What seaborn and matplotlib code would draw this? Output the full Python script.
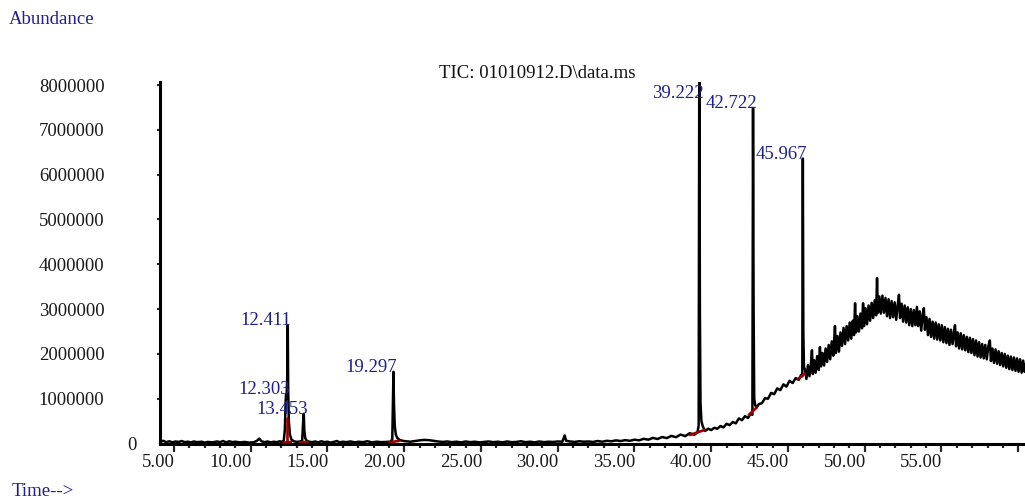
import numpy as np
import pandas as pd
import matplotlib
matplotlib.use("Agg")
import matplotlib.pyplot as plt
from matplotlib.transforms import offset_copy, ScaledTranslation
import seaborn as sns

# ---------------- data ----------------
# early baseline 4.1 - 12.2 min (abundance)
t_early = [4.10, 4.3, 4.5, 4.7, 4.9, 5.1, 5.3, 5.5, 5.7, 5.9, 6.1, 6.3, 6.5, 6.8, 7.0, 7.2, 7.5,
           7.8, 8.0, 8.2, 8.4, 8.6, 8.8, 9.0, 9.3, 9.6, 9.9, 10.2, 10.4, 10.55, 10.7, 10.9, 11.1,
           11.3, 11.5, 11.7, 11.9, 12.0, 12.15]
y_early = [40000, 60000, 30000, 50000, 25000, 45000, 35000, 55000, 30000, 40000, 25000, 45000,
           30000, 40000, 20000, 35000, 25000, 45000, 30000, 55000, 25000, 50000, 30000, 40000,
           25000, 35000, 20000, 30000, 60000, 110000, 50000, 30000, 45000, 25000, 40000, 30000,
           50000, 35000, 60000]
# peaks 12.303 / 12.411 / 13.453
t_p1 = [12.22, 12.28, 12.303, 12.33, 12.38, 12.411, 12.44, 12.48, 12.55, 12.65, 12.8, 13.0, 13.2,
        13.35, 13.40, 13.453, 13.49, 13.55, 13.65, 13.8, 14.0]
y_p1 = [300000, 1000000, 1100000, 1000000, 1500000, 2640000, 1200000, 500000, 200000, 90000,
        50000, 35000, 45000, 60000, 400000, 660000, 300000, 120000, 60000, 40000, 30000]
# baseline 14 - 39 and peak 19.297
t_mid = [14.2, 14.4, 14.6, 14.8, 15.0, 15.2, 15.4, 15.6, 15.8, 16.0, 16.2, 16.5, 16.8, 17.0, 17.3,
         17.6, 17.9, 18.2, 18.5, 18.8, 19.1, 19.22, 19.26, 19.297, 19.33, 19.38, 19.45, 19.55,
         19.7, 19.9, 20.1, 20.4, 20.7, 21.0, 21.3, 21.6, 21.9, 22.2, 22.5, 22.8, 23.1, 23.4,
         23.7, 24.0, 24.3, 24.6, 24.9, 25.2, 25.5, 25.8, 26.1, 26.4, 26.7, 27.0, 27.3, 27.6,
         27.9, 28.2, 28.5, 28.8, 29.1, 29.4, 29.7, 30.0, 30.3, 30.45, 30.55, 30.8, 31.1, 31.4,
         31.7, 32.0, 32.3, 32.6, 32.9, 33.2, 33.5, 33.8, 34.1, 34.4, 34.7, 35.0, 35.3, 35.6,
         35.9, 36.2, 36.5, 36.8, 37.1, 37.4, 37.7, 38.0, 38.3, 38.6, 38.9, 39.1]
y_mid = [45000, 25000, 50000, 30000, 40000, 20000, 35000, 55000, 25000, 40000, 30000, 45000,
         25000, 40000, 30000, 50000, 25000, 40000, 30000, 35000, 40000, 90000, 900000, 1600000,
         900000, 400000, 200000, 120000, 80000, 60000, 50000, 40000, 55000, 70000, 80000, 75000,
         60000, 45000, 35000, 45000, 30000, 40000, 25000, 45000, 30000, 40000, 25000, 35000,
         45000, 30000, 40000, 25000, 45000, 30000, 35000, 50000, 30000, 40000, 25000, 45000,
         30000, 40000, 35000, 45000, 40000, 180000, 60000, 45000, 35000, 50000, 40000, 45000,
         35000, 55000, 40000, 60000, 50000, 70000, 55000, 75000, 60000, 85000, 70000, 105000,
         85000, 125000, 100000, 145000, 120000, 170000, 140000, 200000, 165000, 230000,
         195000, 250000]
# peaks 39.222 / 42.722 / 45.967 on rising baseline
t_late = [39.18, 39.222, 39.26, 39.30, 39.36, 39.45, 39.6, 39.8, 40.0, 40.2, 40.4, 40.6, 40.8,
          41.0, 41.2, 41.4, 41.6, 41.8, 42.0, 42.2, 42.4, 42.55, 42.68, 42.722, 42.76, 42.80,
          42.86, 42.95, 43.1, 43.3, 43.5, 43.7, 43.9, 44.1, 44.3, 44.5, 44.7, 44.9, 45.1, 45.3,
          45.5, 45.7, 45.85, 45.93, 45.967, 46.0, 46.04]
y_late = [400000, 9000000, 3000000, 900000, 500000, 380000, 280000, 330000, 300000, 350000,
          330000, 390000, 360000, 440000, 410000, 480000, 450000, 560000, 520000, 610000,
          570000, 660000, 640000, 7480000, 3000000, 1000000, 860000, 800000, 880000, 900000,
          1010000, 1000000, 1130000, 1100000, 1230000, 1190000, 1320000, 1270000, 1400000,
          1350000, 1460000, 1420000, 1530000, 1500000, 6360000, 2500000, 1700000]
# column bleed hump 46 - 60.5 min (in millions)
t_hump = [46.1, 46.2, 46.3, 46.4, 46.5, 46.56, 46.62, 46.7, 46.8, 46.9, 47.0, 47.08, 47.15, 47.25,
          47.35, 47.45, 47.55, 47.65, 47.75, 47.85, 47.95, 48.06, 48.12, 48.22, 48.32, 48.42,
          48.52, 48.62, 48.72, 48.82, 48.92, 49.02, 49.12, 49.22, 49.30, 49.37, 49.43, 49.52,
          49.62, 49.72, 49.82, 49.89, 49.95, 50.05, 50.15, 50.25, 50.35, 50.45, 50.55, 50.65,
          50.74, 50.80, 50.86, 50.95, 51.05, 51.15, 51.25, 51.35, 51.45, 51.55, 51.65, 51.75,
          51.85, 51.95, 52.05, 52.15, 52.23, 52.30, 52.40, 52.50, 52.60, 52.70, 52.80, 52.90,
          53.00, 53.10, 53.20, 53.30, 53.40, 53.48, 53.58, 53.68, 53.78, 53.85, 53.92, 54.02,
          54.12, 54.22, 54.32, 54.42, 54.52, 54.62, 54.72, 54.82, 54.92, 55.02, 55.12, 55.22,
          55.32, 55.42, 55.52, 55.62, 55.72, 55.82, 55.88, 55.95, 56.05, 56.15, 56.25, 56.35,
          56.45, 56.55, 56.65, 56.75, 56.85, 56.95, 57.05, 57.15, 57.25, 57.35, 57.45, 57.55,
          57.65, 57.75, 57.85, 57.95, 58.05, 58.15, 58.22, 58.32, 58.42, 58.52, 58.62, 58.72,
          58.82, 58.92, 59.02, 59.12, 59.22, 59.32, 59.42, 59.52, 59.62, 59.72, 59.82, 59.92,
          60.02, 60.12, 60.22, 60.32, 60.42, 60.50]
y_hump_m = [1.66, 1.44, 1.75, 1.50, 1.80, 2.08, 1.55, 1.86, 1.58, 1.95, 1.64, 2.15, 1.72, 2.02,
            1.74, 2.12, 1.82, 2.20, 1.88, 2.28, 1.96, 2.62, 2.02, 2.40, 2.05, 2.48, 2.18, 2.58,
            2.22, 2.62, 2.30, 2.70, 2.34, 2.74, 2.42, 3.13, 2.48, 2.84, 2.50, 2.90, 2.57, 3.13,
            2.62, 3.02, 2.66, 3.08, 2.74, 3.14, 2.80, 3.20, 2.86, 3.69, 2.92, 3.28, 2.90, 3.30,
            2.92, 3.25, 2.84, 3.22, 2.80, 3.18, 2.82, 3.15, 2.76, 3.10, 3.32, 2.80, 3.12, 2.72,
            3.08, 2.70, 3.04, 2.64, 3.00, 2.62, 2.98, 2.64, 3.05, 2.62, 2.95, 2.52, 2.90, 3.02,
            2.54, 2.82, 2.42, 2.78, 2.38, 2.72, 2.34, 2.70, 2.32, 2.66, 2.30, 2.64, 2.26, 2.60,
            2.24, 2.56, 2.20, 2.54, 2.22, 2.50, 2.64, 2.17, 2.48, 2.12, 2.46, 2.10, 2.42, 2.08,
            2.38, 2.04, 2.36, 2.02, 2.33, 1.97, 2.30, 1.94, 2.26, 1.92, 2.22, 1.90, 2.20, 1.88,
            2.17, 2.30, 1.84, 2.12, 1.80, 2.10, 1.78, 2.06, 1.75, 2.02, 1.72, 2.00, 1.69, 1.96,
            1.66, 1.94, 1.64, 1.92, 1.62, 1.90, 1.60, 1.88, 1.58, 1.85, 1.60, 1.78]

# integration baselines / drop lines (red)
red_seg_t = [[12.12, 12.62], [12.33, 12.33], [13.20, 13.70], [19.05, 19.70],
             [38.60, 39.55], [42.45, 42.95], [45.65, 46.10]]
red_seg_y = [[15000, 35000], [20000, 570000], [25000, 35000], [30000, 60000],
             [190000, 300000], [640000, 800000], [1440000, 1560000]]

# peak annotations
peak_labels = ["12.303", "12.411", "13.453", "19.297", "39.222", "42.722", "45.967"]
peak_times = [12.303, 12.411, 13.453, 19.297, 39.222, 42.722, 45.967]
peak_label_y = [1100000, 2640000, 660000, 1600000, 7710000, 7480000, 6360000]

x_ticks = [5, 10, 15, 20, 25, 30, 35, 40, 45, 50, 55, 60]
x_tick_labels = ["5.00", "10.00", "15.00", "20.00", "25.00", "30.00", "35.00", "40.00",
                 "45.00", "50.00", "55.00", ""]
y_ticks = [1000000, 2000000, 3000000, 4000000, 5000000, 6000000, 7000000, 8000000]
y_tick_labels = ["1000000", "2000000", "3000000", "4000000", "5000000", "6000000",
                 "7000000", "8000000"]

# ---------------- build frames ----------------
time = t_early + t_p1 + t_mid + t_late + t_hump
abund = y_early + y_p1 + y_mid + y_late + [v * 1e6 for v in y_hump_m]
trace = pd.DataFrame({"time": time, "abundance": abund})

red_rows = []
for i, (ts, ys) in enumerate(zip(red_seg_t, red_seg_y)):
    for tt, yy in zip(ts, ys):
        red_rows.append({"seg": i, "time": tt, "abundance": yy})
red_df = pd.DataFrame(red_rows)

# ---------------- styling ----------------
sns.set_style("white")
plt.rcParams["font.family"] = ["Liberation Serif", "DejaVu Serif"]

BLUE = "#1f1f8f"
FS = 13.5
W, H = 1025, 499
fig = plt.figure(figsize=(W / 100, H / 100), dpi=100)
ax = fig.add_axes([160 / W, 1 - 443.5 / H, (W - 160) / W, (443.5 - 81.5) / H])

sns.lineplot(data=trace, x="time", y="abundance", estimator=None, sort=False,
             color="black", linewidth=1.8, ax=ax, zorder=3)
sns.lineplot(data=red_df, x="time", y="abundance", units="seg", estimator=None, sort=False,
             color="#a00000", linewidth=1.9, ax=ax, zorder=4)

ax.set_xlim(4.088, 60.44)
ax.set_ylim(0, 8.08e6)
ax.set_xlabel("")
ax.set_ylabel("")

for s in ["top", "right"]:
    ax.spines[s].set_visible(False)
for s in ["left", "bottom"]:
    ax.spines[s].set_linewidth(2.2)
    ax.spines[s].set_color("black")
    ax.spines[s].set_zorder(5)

ax.set_xticks(x_ticks)
ax.set_xticklabels(x_tick_labels, ha="right", fontsize=FS, color="#1a1a1a")
ax.set_xticks(np.arange(5, 61, 1), minor=True)
ax.tick_params(axis="x", which="major", direction="out", length=5.5, width=1.6, pad=2,
               bottom=True)
ax.tick_params(axis="x", which="minor", direction="out", length=3, width=1.6, bottom=True)
for lab in ax.get_xticklabels():
    lab.set_transform(lab.get_transform() + ScaledTranslation(1 / 100, 0, fig.dpi_scale_trans))

ax.set_yticks(y_ticks)
ax.set_yticklabels(y_tick_labels, fontsize=FS, color="#1a1a1a")
ax.tick_params(axis="y", which="major", direction="out", length=2, width=1.5, pad=38, left=True)

# zero label sits closer to the axis
zero_tr = offset_copy(ax.get_yaxis_transform(), fig=fig, x=-23, y=0, units="dots")
ax.text(0, 0, "0", transform=zero_tr, ha="right", va="center_baseline", fontsize=FS,
        color="#1a1a1a")

ax.grid(False)

# peak labels
for lab, tt, yy in zip(peak_labels, peak_times, peak_label_y):
    ax.annotate(lab, xy=(tt, yy), xytext=(4, 0), textcoords="offset pixels",
                ha="right", va="baseline", fontsize=FS, color=BLUE, zorder=6,
                annotation_clip=False)

fig.text(537.5 / W, 1 - 74 / H, "TIC: 01010912.D\\data.ms", ha="center", va="center",
         fontsize=FS, color="#111111")
fig.text(9 / W, 1 - 20 / H, "Abundance", ha="left", va="center", fontsize=FS, color=BLUE)
fig.text(12 / W, 1 - 492 / H, "Time-->", ha="left", va="center", fontsize=FS, color=BLUE)

fig.savefig("out.png", dpi=100)
